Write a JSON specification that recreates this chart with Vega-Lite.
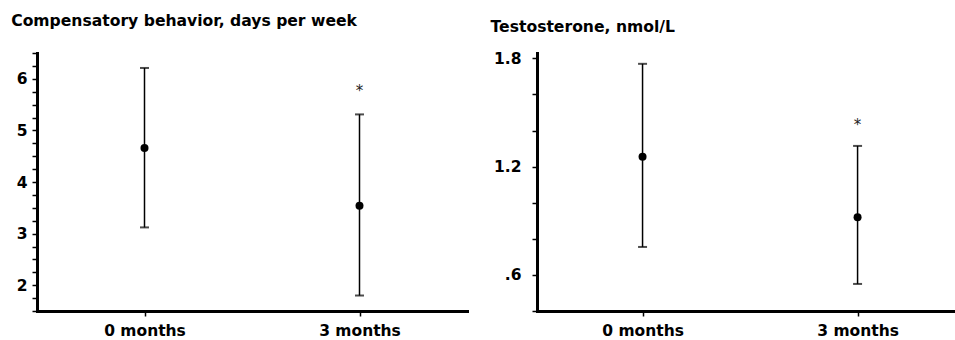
{
  "$schema": "https://vega.github.io/schema/vega-lite/v6.json",
  "background": "white",
  "padding": {"left": 11, "top": 14, "right": 0, "bottom": 0},
  "spacing": 23,
  "config": {
    "view": {"stroke": null},
    "font": "DejaVu Sans",
    "axis": {
      "grid": false,
      "domainColor": "black",
      "domainWidth": 3,
      "domainCap": "square",
      "tickColor": "black",
      "tickWidth": 1.5,
      "tickSize": 5,
      "labelFont": "DejaVu Sans",
      "labelFontWeight": "bold",
      "labelFontSize": 15.5,
      "labelColor": "black",
      "labelOverlap": false,
      "labelFlush": false,
      "title": null
    },
    "title": {"font": "DejaVu Sans", "fontWeight": "bold", "fontSize": 15.6, "color": "black", "anchor": "start", "frame": "bounds"}
  },
  "datasets": {
    "behavior": [
      {"time": "0 months", "mean": 4.66, "lo": 3.12, "hi": 6.21, "star": null, "star_y": null},
      {"time": "3 months", "mean": 3.54, "lo": 1.8, "hi": 5.31, "star": "*", "star_y": 5.76}
    ],
    "testosterone": [
      {"time": "0 months", "mean": 1.255, "lo": 0.755, "hi": 1.77, "star": null, "star_y": null},
      {"time": "3 months", "mean": 0.92, "lo": 0.55, "hi": 1.315, "star": "*", "star_y": 1.43}
    ]
  },
  "hconcat": [
    {
      "width": 430,
      "height": 258,
      "title": {"text": "Compensatory behavior, days per week", "offset": 16, "dx": -5},
      "data": {"name": "behavior"},
      "encoding": {
        "x": {
          "field": "time", "type": "ordinal", "sort": ["0 months", "3 months"],
          "scale": {"type": "point", "padding": 0.5},
          "axis": {"labelAngle": 0, "labelPadding": 7, "title": null}
        }
      },
      "layer": [
        {
          "mark": {"type": "rule", "color": "black", "strokeWidth": 1.5},
          "encoding": {
            "y": {
              "field": "lo", "type": "quantitative", "title": null,
              "scale": {"domain": [1.5, 6.5], "nice": false, "zero": false},
              "axis": {
                "values": [1.5, 1.75, 2, 2.25, 2.5, 2.75, 3, 3.25, 3.5, 3.75, 4, 4.25, 4.5, 4.75, 5, 5.25, 5.5, 5.75, 6, 6.25, 6.5],
                "tickCount": 100,
                "labelExpr": "datum.value % 1 == 0 ? format(datum.value, 'd') : ''",
                "labelPadding": 5,
                "title": null
              }
            },
            "y2": {"field": "hi"}
          }
        },
        {
          "mark": {"type": "tick", "color": "black", "size": 9, "thickness": 2},
          "encoding": {"y": {"field": "lo", "type": "quantitative", "title": null}}
        },
        {
          "mark": {"type": "tick", "color": "black", "size": 9, "thickness": 2},
          "encoding": {"y": {"field": "hi", "type": "quantitative", "title": null}}
        },
        {
          "mark": {"type": "circle", "color": "black", "opacity": 1, "size": 64},
          "encoding": {"y": {"field": "mean", "type": "quantitative", "title": null}}
        },
        {
          "transform": [{"filter": "isValid(datum.star_y)"}],
          "mark": {"type": "text", "color": "#222", "fontSize": 15, "baseline": "middle", "align": "center"},
          "encoding": {
            "y": {"field": "star_y", "type": "quantitative", "title": null},
            "text": {"field": "star"}
          }
        }
      ]
    },
    {
      "width": 418,
      "height": 258,
      "title": {"text": "Testosterone, nmol/L", "offset": 16, "dx": -3},
      "data": {"name": "testosterone"},
      "encoding": {
        "x": {
          "field": "time", "type": "ordinal", "sort": ["0 months", "3 months"],
          "scale": {"type": "point", "padding": 0.472, "align": 0.52},
          "axis": {"labelAngle": 0, "labelPadding": 7, "title": null}
        }
      },
      "layer": [
        {
          "mark": {"type": "rule", "color": "black", "strokeWidth": 1.5},
          "encoding": {
            "y": {
              "field": "lo", "type": "quantitative", "title": null,
              "scale": {"domain": [0.4, 1.83], "nice": false, "zero": false},
              "axis": {
                "values": [0.4, 0.6, 0.8, 1.0, 1.2, 1.4, 1.6, 1.8],
                "tickCount": 100,
                "labelExpr": "datum.value == 0.6 ? '.6' : datum.value == 1.2 ? '1.2' : datum.value == 1.8 ? '1.8' : ''",
                "labelPadding": 11,
                "title": null
              }
            },
            "y2": {"field": "hi"}
          }
        },
        {
          "mark": {"type": "tick", "color": "black", "size": 9, "thickness": 2},
          "encoding": {"y": {"field": "lo", "type": "quantitative", "title": null}}
        },
        {
          "mark": {"type": "tick", "color": "black", "size": 9, "thickness": 2},
          "encoding": {"y": {"field": "hi", "type": "quantitative", "title": null}}
        },
        {
          "mark": {"type": "circle", "color": "black", "opacity": 1, "size": 64},
          "encoding": {"y": {"field": "mean", "type": "quantitative", "title": null}}
        },
        {
          "transform": [{"filter": "isValid(datum.star_y)"}],
          "mark": {"type": "text", "color": "#222", "fontSize": 15, "baseline": "middle", "align": "center"},
          "encoding": {
            "y": {"field": "star_y", "type": "quantitative", "title": null},
            "text": {"field": "star"}
          }
        }
      ]
    }
  ]
}
